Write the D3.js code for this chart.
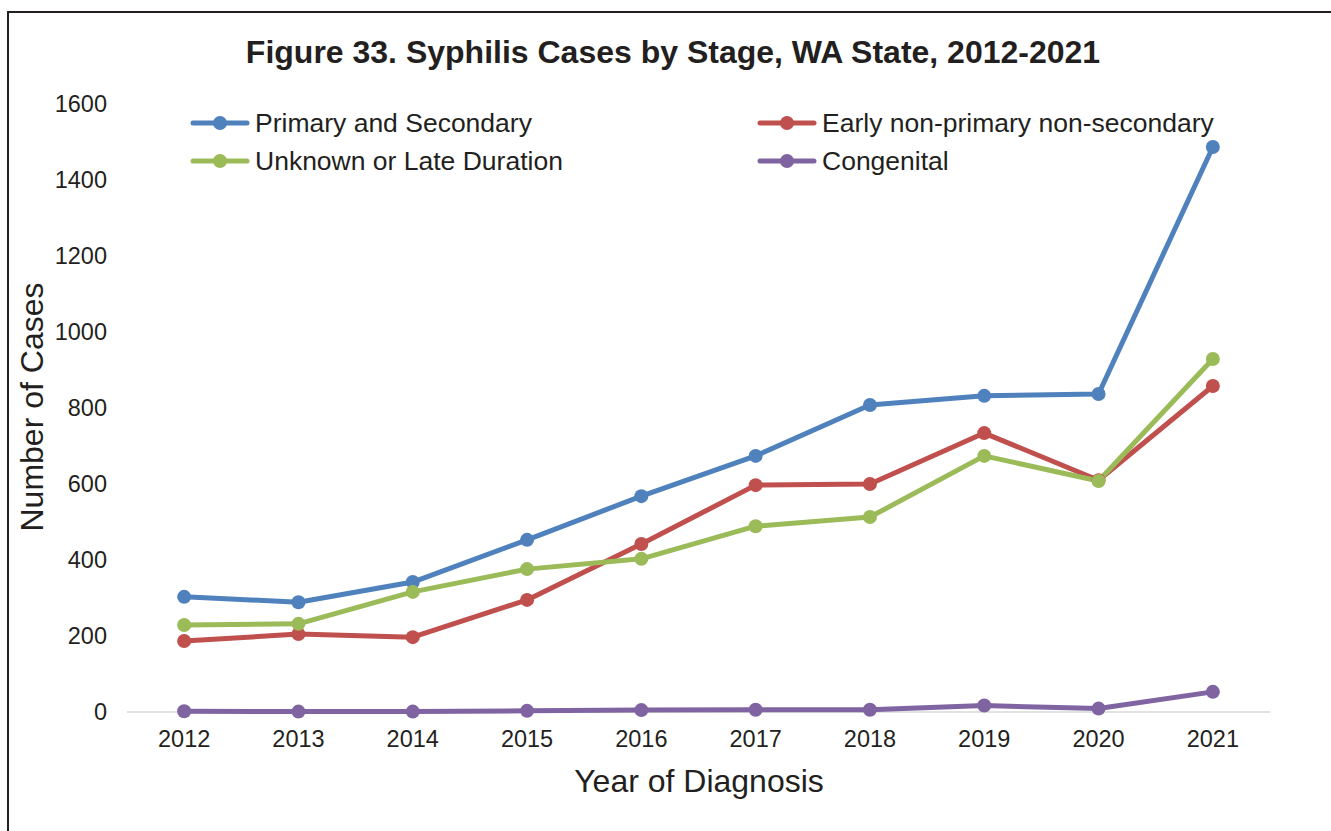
<!DOCTYPE html>
<html><head><meta charset="utf-8">
<script src="https://cdn.jsdelivr.net/npm/d3@7"></script>
<style>body{margin:0;background:#fff}svg{display:block;font-family:"Liberation Sans",Arial,sans-serif}</style>
</head><body><svg id="c" width="1331" height="831"></svg>
<script>
const years = ["2012","2013","2014","2015","2016","2017","2018","2019","2020","2021"];
const seriesNames = ["Primary and Secondary","Early non-primary non-secondary","Unknown or Late Duration","Congenital"];
const primarySecondary = [303,289,342,453,568,674,808,832,837,1487];
const earlyNonPrimary = [187,205,197,295,442,597,600,734,610,858];
const unknownLate = [229,232,316,376,403,489,513,674,608,929];
const congenital = [2,1,1,3,5,6,6,17,9,53];
const yTicks = [0,200,400,600,800,1000,1200,1400,1600];
const colors = ["#4F81BD","#C0504D","#9BBB59","#8064A2"];

const series = [primarySecondary, earlyNonPrimary, unknownLate, congenital];
const svg = d3.select("#c");

svg.append("rect").attr("x",8).attr("y",12).attr("width",1340).attr("height",840)
  .attr("fill","none").attr("stroke","#231f20").attr("stroke-width",2);

const x = d3.scaleBand().domain(years).range([127,1270]);
const y = d3.scaleLinear().domain([0,1600]).range([712,104]);

svg.append("line").attr("x1",127).attr("x2",1270).attr("y1",y(0)).attr("y2",y(0))
  .attr("stroke","#d9d9d9").attr("stroke-width",1.5);

const ya = svg.append("g").attr("transform","translate(107,0)")
  .call(d3.axisLeft(y).tickValues(yTicks).tickFormat(d3.format("d")).tickSize(0).tickPadding(0));
ya.select(".domain").remove();
ya.selectAll("text").attr("font-size",23.5).attr("fill","#231f20").attr("font-family","Liberation Sans, Arial, sans-serif");

const xa = svg.append("g").attr("transform",`translate(0,${y(0)})`)
  .call(d3.axisBottom(x).tickSize(0).tickPadding(18));
xa.select(".domain").remove();
xa.selectAll("text").attr("font-size",23.5).attr("fill","#231f20").attr("font-family","Liberation Sans, Arial, sans-serif");

const cx = d => x(d) + x.bandwidth()/2;
const line = d3.line().x((d,i)=>cx(years[i])).y(d=>y(d));

series.forEach((s,k)=>{
  svg.append("path").datum(s).attr("d",line).attr("fill","none")
    .attr("stroke",colors[k]).attr("stroke-width",5).attr("stroke-linejoin","round");
});
series.forEach((s,k)=>{
  svg.selectAll(null).data(s).enter().append("circle")
    .attr("cx",(d,i)=>cx(years[i])).attr("cy",d=>y(d)).attr("r",7).attr("fill",colors[k]);
});

svg.append("text").attr("x",673).attr("y",63).attr("text-anchor","middle")
  .attr("font-size",32).attr("font-weight","bold").attr("fill","#231f20")
  .text("Figure 33. Syphilis Cases by Stage, WA State, 2012-2021");

svg.append("text").attr("x",699).attr("y",792).attr("text-anchor","middle")
  .attr("font-size",32).attr("fill","#231f20").text("Year of Diagnosis");
svg.append("text").attr("transform","translate(43,407) rotate(-90)").attr("text-anchor","middle")
  .attr("font-size",32).attr("fill","#231f20").text("Number of Cases");

const legPos = [[193,123],[760,123],[193,161],[760,161]];
seriesNames.forEach((n,k)=>{
  const [lx,ly] = legPos[k];
  const g = svg.append("g");
  g.append("line").attr("x1",lx).attr("x2",lx+54).attr("y1",ly).attr("y2",ly)
    .attr("stroke",colors[k]).attr("stroke-width",5).attr("stroke-linecap","round");
  g.append("circle").attr("cx",lx+27).attr("cy",ly).attr("r",7).attr("fill",colors[k]);
  g.append("text").attr("x",lx+62).attr("y",ly+9).attr("font-size",26.5).attr("fill","#231f20").text(n);
});
</script></body></html>
